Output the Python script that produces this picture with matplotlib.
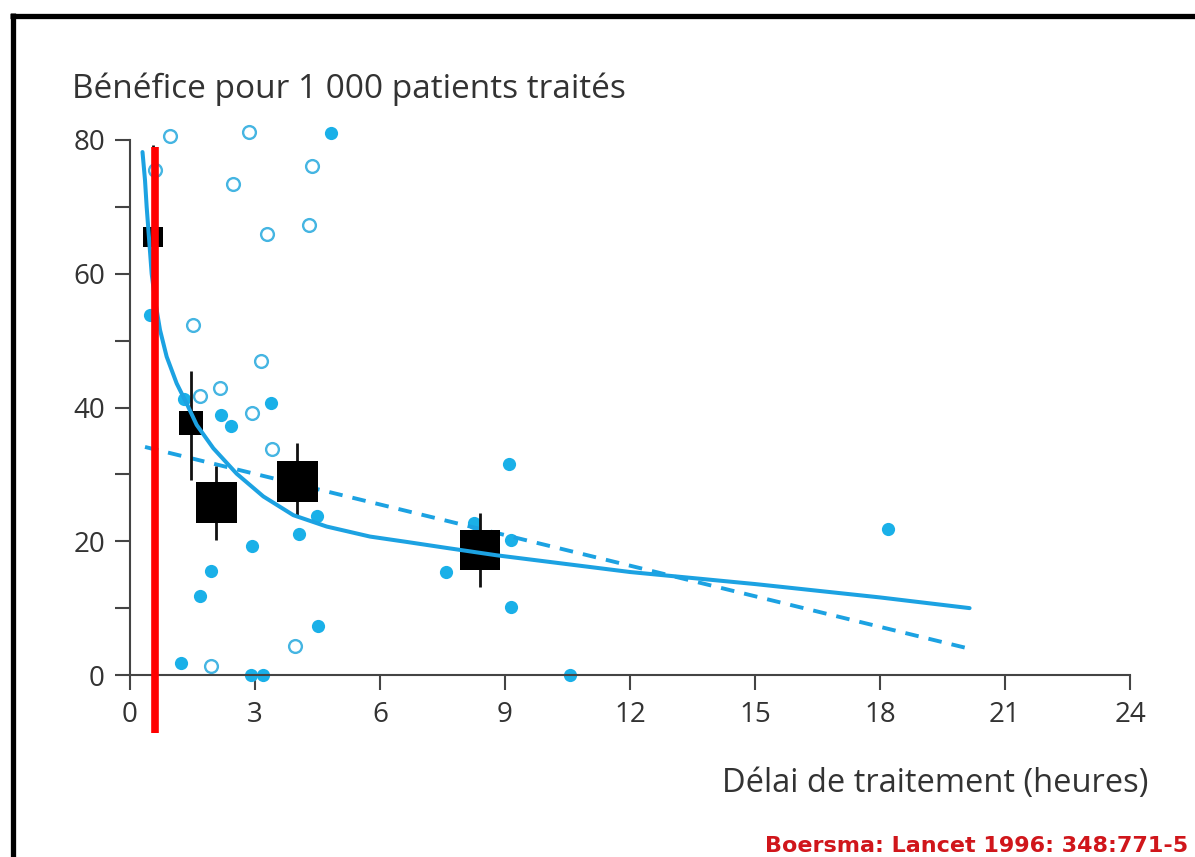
import matplotlib
matplotlib.use("Agg")
import matplotlib.pyplot as plt
from matplotlib.lines import Line2D

# ---------------- data ----------------
open_x = [0.96, 2.86, 4.37, 2.47, 4.30, 3.29, 1.51, 3.14, 2.16, 1.68, 2.93, 3.41, 3.96, 1.94, 0.60]
open_y = [80.6, 81.2, 76.1, 73.4, 67.3, 65.9, 52.3, 46.9, 42.9, 41.7, 39.2, 33.8, 4.3, 1.3, 75.5]

filled_x = [4.82, 0.48, 3.38, 1.30, 2.18, 2.42, 4.49, 4.06, 2.93, 1.94, 1.68, 4.51, 1.22,
            2.90, 3.19, 9.10, 18.19, 8.25, 9.14, 7.58, 9.14, 10.57]
filled_y = [81.0, 53.8, 40.7, 41.3, 38.9, 37.2, 23.8, 21.1, 19.3, 15.5, 11.8, 7.3, 1.8,
            0.0, 0.0, 31.6, 21.8, 22.7, 20.2, 15.4, 10.2, 0.0]

group_x = [0.56, 1.46, 2.06, 4.00, 8.40]
group_y = [65.5, 37.7, 25.9, 29.0, 18.7]
group_lo = [52.0, 29.1, 20.2, 23.6, 13.2]
group_hi = [79.2, 45.5, 31.2, 34.7, 24.2]
group_weight = [20, 24, 41, 41, 40]

fit_x = [0.30, 0.36, 0.40, 0.46, 0.52, 0.60, 0.72, 0.88, 1.12, 1.36, 1.60, 2.00,
         2.56, 3.20, 3.92, 4.72, 5.76, 6.64, 7.60, 8.80, 12.0, 15.0, 18.0, 20.15]
fit_y = [78.2, 74.0, 70.0, 65.0, 60.0, 56.1, 51.6, 47.6, 43.6, 40.6, 37.4, 33.9,
         30.1, 26.7, 23.9, 22.2, 20.7, 19.9, 19.0, 17.9, 15.4, 13.6, 11.6, 10.0]

lin_x = [0.36, 20.10]
lin_y = [34.1, 4.0]

highlight_x = 0.6
highlight_y = [78.9, -8.7]

xticks = [0, 3, 6, 9, 12, 15, 18, 21, 24]
yticks = [0, 20, 40, 60, 80]
yminor = [10, 30, 50, 70]

title = "Bénéfice pour 1 000 patients traités"
xlabel = "Délai de traitement (heures)"
citation = "Boersma: Lancet 1996: 348:771-5"

# ---------------- style ----------------
W, H, DPI = 1195, 857, 100
BLUE = "#1ab0e8"
LINE_BLUE = "#1ca2e2"
OPEN_BLUE = "#45b5e2"
AX_COL = "#444444"
FONT = ["Open Sans", "DejaVu Sans"]

plt.rcParams["font.family"] = FONT

fig = plt.figure(figsize=(W / DPI, H / DPI), dpi=DPI)
fig.patch.set_facecolor("white")
ax = fig.add_axes([130 / W, 1 - 675 / H, 1000 / W, 535 / H])
ax.set_xlim(0, 24)
ax.set_ylim(0, 80)
ax.patch.set_alpha(0)

for s in ("top", "right"):
    ax.spines[s].set_visible(False)
for s in ("left", "bottom"):
    ax.spines[s].set_color(AX_COL)
    ax.spines[s].set_linewidth(1.5)

ax.set_xticks(xticks)
ax.set_yticks(yticks)
ax.set_yticks(yminor, minor=True)
ax.tick_params(axis="both", which="both", direction="out", length=11, width=1.5,
               color=AX_COL, labelcolor="#333333", labelsize=20)
ax.tick_params(axis="y", which="major", pad=7)
ax.tick_params(axis="x", which="major", pad=8)
ax.set_xticklabels([str(t) for t in xticks])
ax.set_yticklabels([str(t) for t in yticks])

# circles
ax.plot(open_x, open_y, "o", ms=9.2, mfc="white", mec=OPEN_BLUE, mew=1.7,
        ls="none", clip_on=False, zorder=2)
ax.plot(filled_x, filled_y, "o", ms=9.5, mfc=BLUE, mec=BLUE, mew=0,
        ls="none", clip_on=False, zorder=2)

# dashed linear fit
ax.plot(lin_x, lin_y, color=LINE_BLUE, lw=2.8, dashes=(3.5, 2.6), zorder=3,
        solid_capstyle="butt", dash_capstyle="butt")

# groups: error bars + squares
ax.vlines(group_x, group_lo, group_hi, colors="#111111", lw=2.0, zorder=4)
for gx, gy, gw in zip(group_x, group_y, group_weight):
    ax.plot([gx], [gy], marker="s", ms=gw * 72 / DPI, mfc="black", mec="black",
            mew=0, ls="none", zorder=5, clip_on=False)

# solid fitted curve
ax.plot(fit_x, fit_y, color=LINE_BLUE, lw=2.9, zorder=6, solid_joinstyle="round",
        solid_capstyle="round")

# red vertical highlight
ax.plot([highlight_x, highlight_x], highlight_y, color="#ff0000", lw=5.5,
        zorder=10, clip_on=False, solid_capstyle="butt")

# texts
fig.text(72 / W, 1 - 98 / H, title, fontsize=24, color="#333333",
         ha="left", va="baseline")
fig.text(1148 / W, 1 - 792 / H, xlabel, fontsize=23.5, color="#333333",
         ha="right", va="baseline")
fig.text(765 / W, 1 - 852 / H, citation, fontsize=16, color="#d0161b",
         fontweight="bold", family="DejaVu Sans", ha="left", va="baseline")

# black frame (top and left)
fig.add_artist(Line2D([10 / W, 1.0], [1 - 15.5 / H, 1 - 15.5 / H],
                      color="black", lw=3.8, solid_capstyle="butt"))
fig.add_artist(Line2D([12.5 / W, 12.5 / W], [0.0, 1 - 13 / H],
                      color="black", lw=3.8, solid_capstyle="butt"))

fig.savefig("out.png", dpi=DPI)
